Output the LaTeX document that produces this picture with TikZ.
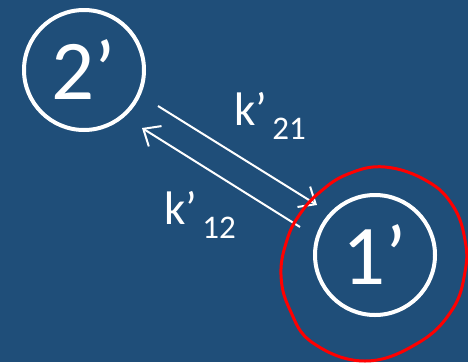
\documentclass[tikz,border=0pt]{standalone}
\usepackage{fontspec}
\setmainfont{Carlito}
\usetikzlibrary{arrows.meta}
\definecolor{slideblue}{RGB}{31,78,121}
\tikzset{
  state/.style={circle, draw=white, line width=4pt, minimum size=120pt, inner sep=0pt,
    text=white, font=\fontsize{85}{85}\selectfont},
  rate/.style={anchor=base west, text=white, inner sep=0pt, font=\fontsize{47}{47}\selectfont},
  flow/.style={draw=white, line width=2pt, -{Straight Barb[length=14pt, width=24pt]}}
}
\newcommand{\ksub}[1]{k’\hspace{5pt}\raisebox{-14pt}{\fontsize{33}{33}\selectfont #1}}
\begin{document}
\begin{tikzpicture}[x=1pt, y=-1pt]
  \fill[slideblue] (0,0) rectangle (468,362);
  \useasboundingbox (0,0) rectangle (468,362);

  \node[state] (two) at (84,70) {2’};
  \node[state] (one) at (375,255) {1’};

  % the two rates
  \coordinate (a1) at (158,106);
  \coordinate (b1) at (317,205);
  \coordinate (a2) at (300,227);
  \coordinate (b2) at (142,128);
  \draw[flow] (a1) -- (b1);
  \draw[flow] (a2) -- (b2);

  \node[rate] (k21) at (234,125) {\ksub{21}};
  \node[rate] (k12) at (164,224) {\ksub{12}};

  % red loop round 1'
  \draw[red, line width=3pt] plot[smooth cycle, tension=0.7] coordinates {
    (385,167) (427,181) (453,206) (465,240) (465,272) (452,310) (418,343) (365,361)
    (313,343) (290,310) (281,275) (287,240) (300,214) (320,192) (348,174)};
\end{tikzpicture}
\end{document}
